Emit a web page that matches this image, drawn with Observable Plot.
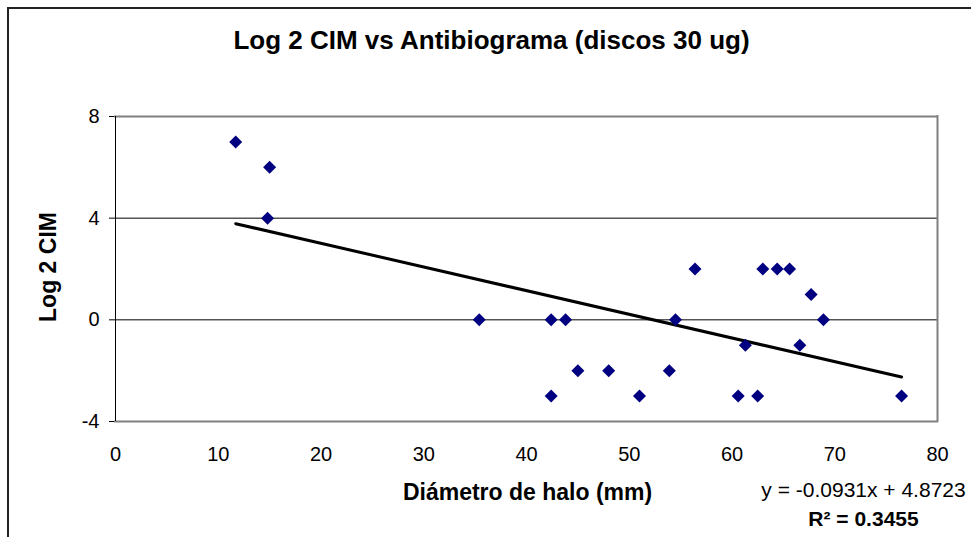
<!DOCTYPE html>
<html><head><meta charset="utf-8">
<script src="https://cdn.jsdelivr.net/npm/d3@7"></script>
<script src="https://cdn.jsdelivr.net/npm/@observablehq/plot@0.6"></script>
<style>
body{margin:0;background:#fff;}
#wrap{position:relative;width:971px;height:537px;overflow:hidden;background:#fff;}
#chart{position:absolute;left:0;top:0;}
#border{position:absolute;left:7px;top:7px;width:1200px;height:800px;border-left:2px solid #222;border-top:2px solid #222;pointer-events:none;}
</style></head><body>
<div id="wrap"><div id="chart"></div><div id="border"></div></div>
<script>
// Data
const diametro = [11.7, 14.8, 15.0, 35.4, 42.4, 42.4, 43.8, 45.0, 48.0, 51.0, 53.9, 54.5, 56.4, 60.6, 61.3, 62.5, 63.0, 64.4, 65.6, 66.6, 67.7, 68.9, 76.5];
const log2cim  = [7,    4,    6,    0,    0,    -3,   0,    -2,   -2,   -3,   -2,   0,    2,    -3,   -1,   -3,   2,    2,    2,    -1,   1,    0,    -3];
const xTicks = [0, 10, 20, 30, 40, 50, 60, 70, 80];
const yTicks = [-4, 0, 4, 8];
const gridY = [0, 4];
const slope = -0.0931;
const intercept = 4.8723;
const titleText = "Log 2 CIM vs Antibiograma (discos 30 ug)";
const xLabel = "Diámetro de halo (mm)";
const yLabel = "Log 2 CIM";
const eqText = "y = -0.0931x + 4.8723";
const r2Text = "R² = 0.3455";

const points = diametro.map((x, i) => ({x, y: log2cim[i]}));
const [xMin, xMax] = d3.extent(diametro);
const trend = [xMin, xMax].map(x => ({x, y: slope * x + intercept}));
const xDom = d3.extent(xTicks), yDom = d3.extent(yTicks);

const diamond = {draw(ctx, size) {
  const r = Math.sqrt(size / Math.PI);
  ctx.moveTo(0, -r); ctx.lineTo(r, 0); ctx.lineTo(0, r); ctx.lineTo(-r, 0); ctx.closePath();
}};

const font = "Liberation Sans, Arial, sans-serif";
const chart = Plot.plot({
  width: 971, height: 537,
  marginLeft: 115, marginRight: 34, marginTop: 116, marginBottom: 116,
  style: {fontFamily: font, fontSize: "20px", color: "#000", background: "white", overflow: "visible"},
  x: {domain: xDom, ticks: xTicks, tickSize: 0, tickPadding: 25, label: null, tickFormat: d => String(d)},
  y: {domain: yDom, ticks: yTicks, tickSize: 6, tickPadding: 10, label: null, tickFormat: d => String(d)},
  marks: [
    Plot.ruleY(gridY, {stroke: "#000", strokeWidth: 1}),
    Plot.ruleY([yDom[1]], {x1: xDom[0], x2: xDom[1], stroke: "#808080", strokeWidth: 2, strokeLinecap: "square"}),
    Plot.ruleY([yDom[0]], {x1: xDom[0], x2: xDom[1], stroke: "#808080", strokeWidth: 2, strokeLinecap: "square"}),
    Plot.ruleX([xDom[1]], {y1: yDom[0], y2: yDom[1], stroke: "#808080", strokeWidth: 2, strokeLinecap: "square"}),
    Plot.ruleX([xDom[0]], {y1: yDom[0], y2: yDom[1], stroke: "#000", strokeWidth: 1}),
    Plot.line(trend, {x: "x", y: "y", stroke: "#000", strokeWidth: 3}),
    Plot.dot(points, {x: "x", y: "y", symbol: diamond, r: 6.5, fill: "#000080", stroke: "none"}),
    Plot.text([titleText], {text: d => d, frameAnchor: "top-left", dx: 376, dy: -68, textAnchor: "middle", lineAnchor: "bottom", fontSize: 26, fontWeight: "bold"}),
    Plot.text([xLabel], {text: d => d, frameAnchor: "bottom", dx: 1, dy: 78, textAnchor: "middle", lineAnchor: "bottom", fontSize: 23, fontWeight: "bold"}),
    Plot.text([yLabel], {text: d => d, frameAnchor: "left", dx: -67, dy: -2, rotate: -90, textAnchor: "middle", lineAnchor: "middle", fontSize: 23, fontWeight: "bold"}),
    Plot.text([eqText], {text: d => d, frameAnchor: "bottom-right", dx: -74, dy: 75, textAnchor: "middle", lineAnchor: "bottom", fontSize: 21}),
    Plot.text([r2Text], {text: d => d, frameAnchor: "bottom-right", dx: -74, dy: 104, textAnchor: "middle", lineAnchor: "bottom", fontSize: 21, fontWeight: "bold"})
  ]
});
document.getElementById("chart").appendChild(chart);
</script>
</body></html>
